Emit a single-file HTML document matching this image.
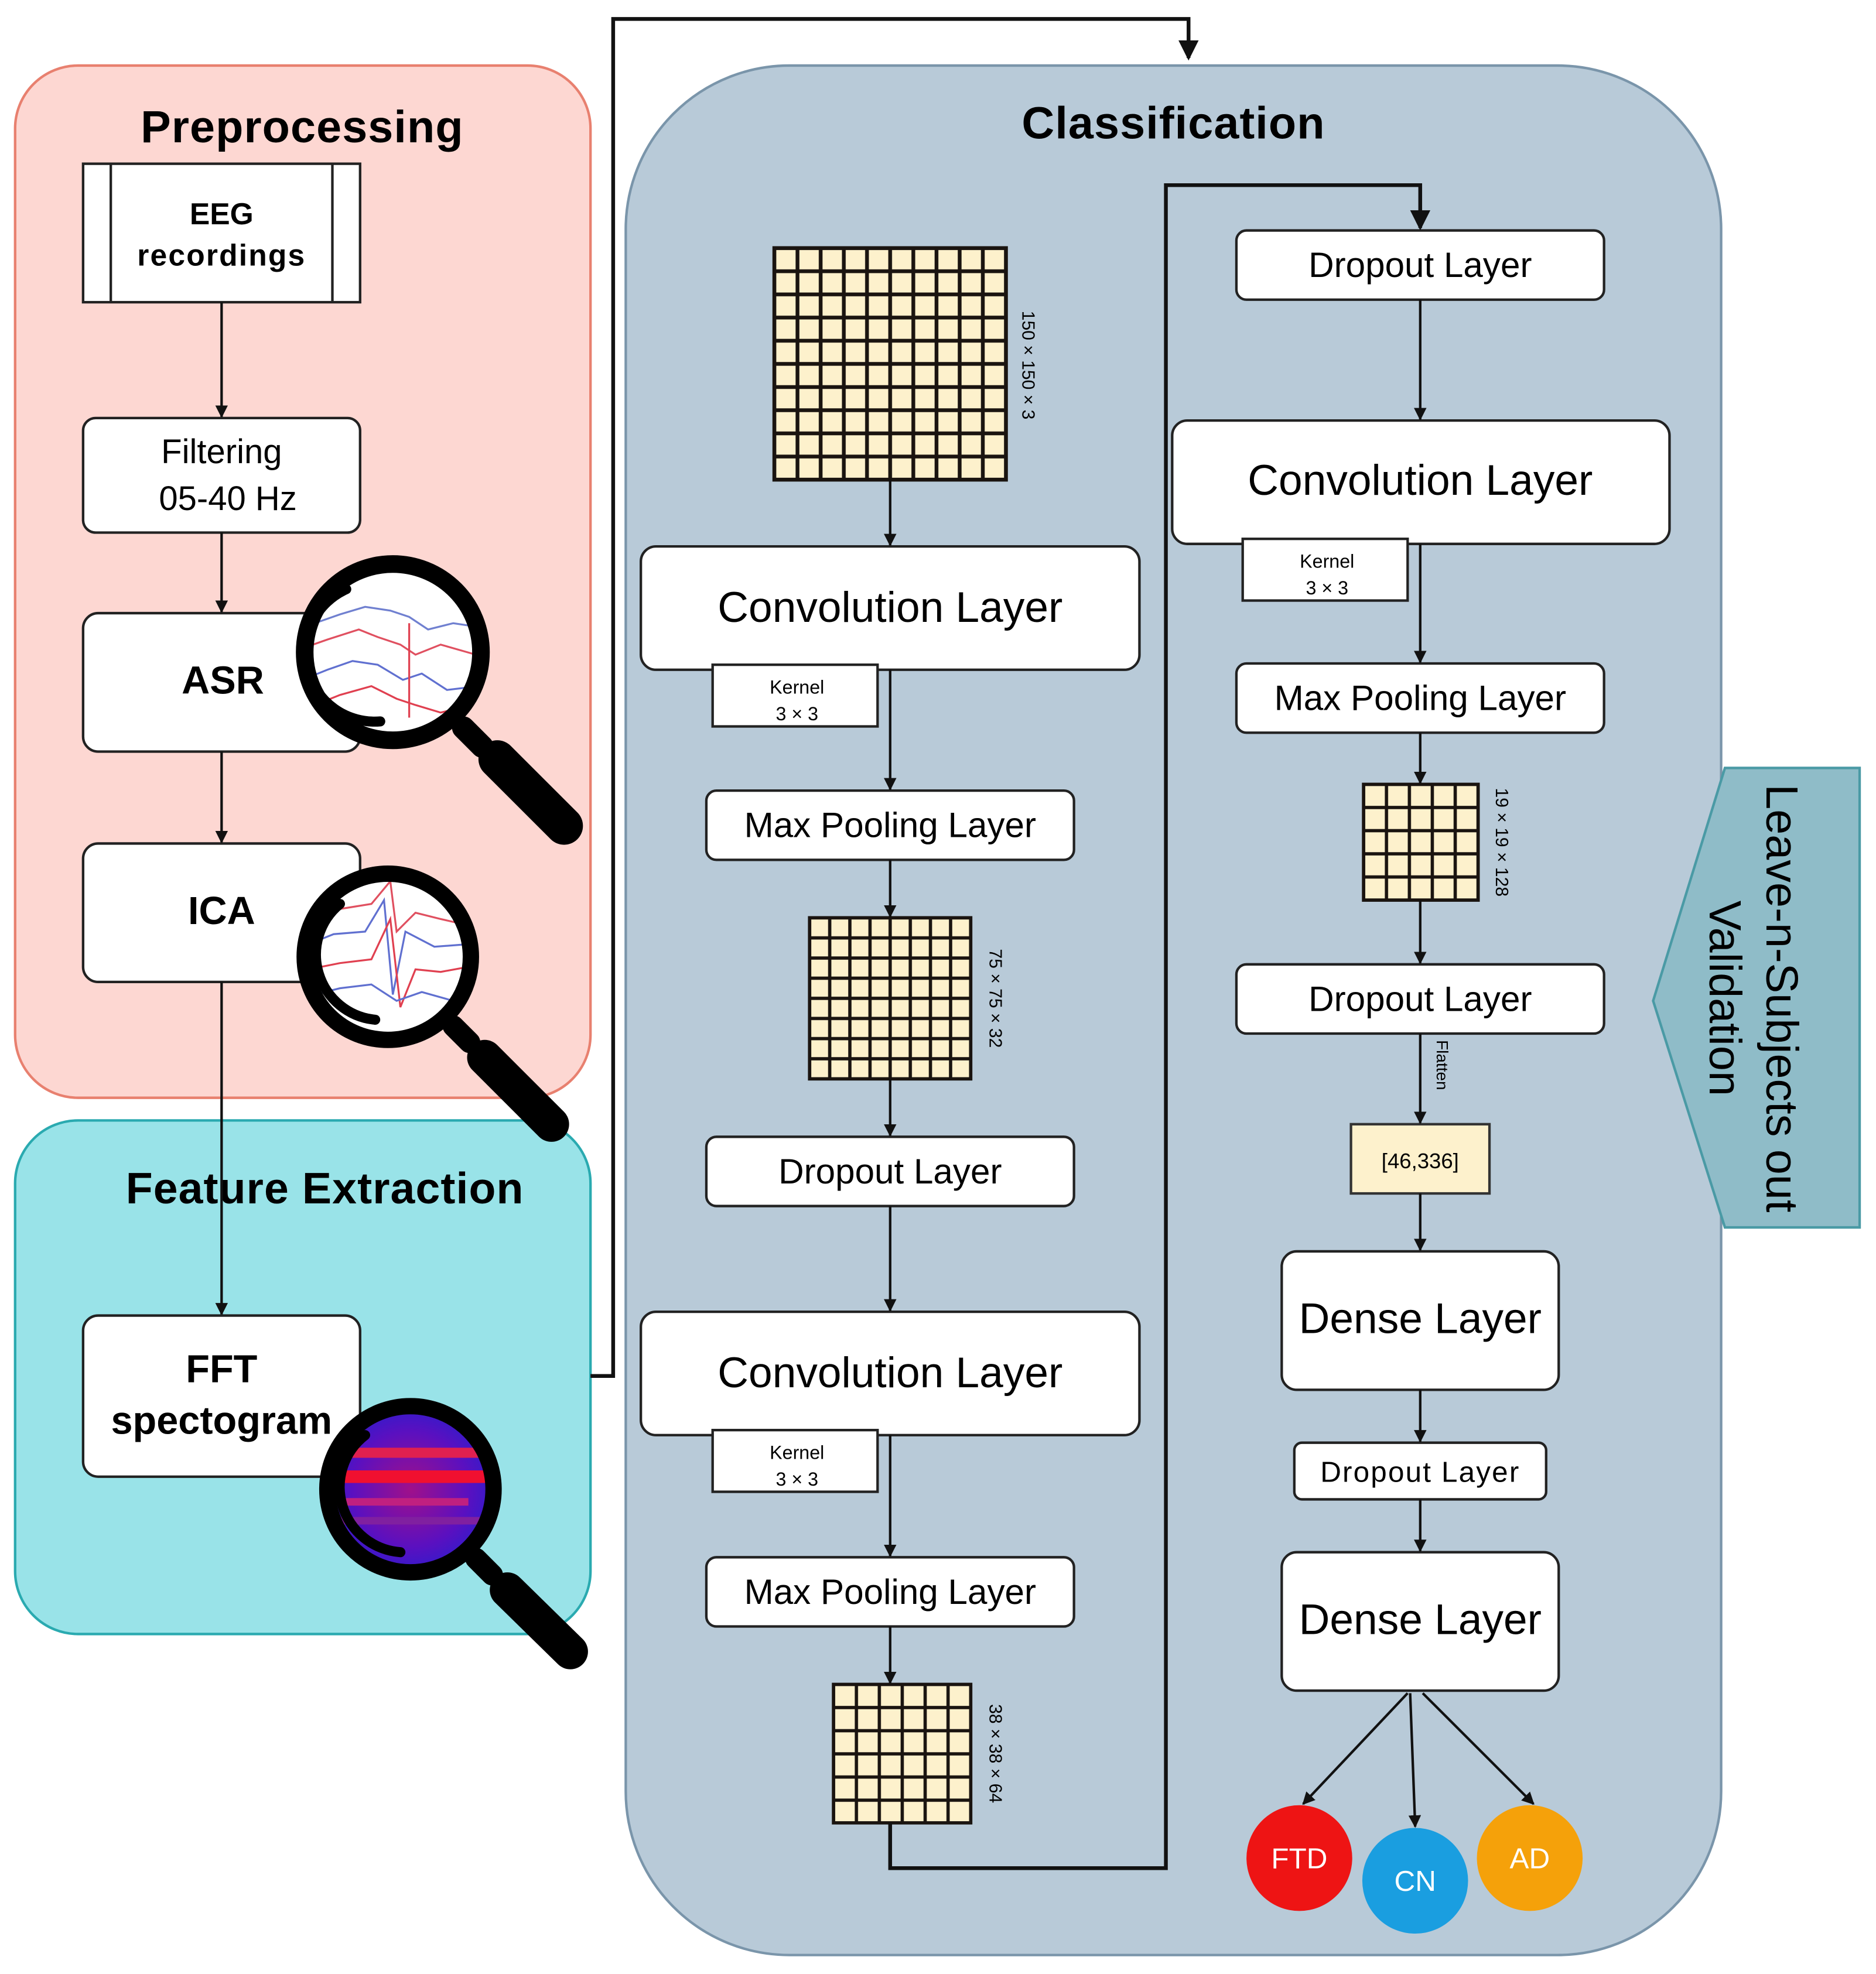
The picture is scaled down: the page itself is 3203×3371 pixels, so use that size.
<!DOCTYPE html>
<html><head><meta charset="utf-8"><style>html,body{margin:0;padding:0;background:#fff}svg{display:block}</style></head>
<body>
<svg width="3203" height="3371" viewBox="0 0 1490 1568" xmlns="http://www.w3.org/2000/svg" font-family="Liberation Sans, Arial, sans-serif">
<defs>
<marker id="ah" markerWidth="10" markerHeight="10" refX="9" refY="5" orient="auto" markerUnits="userSpaceOnUse"><path d="M0,0 L10,5 L0,10 z" fill="#111"/></marker>
<marker id="ahb" markerWidth="16" markerHeight="16" refX="14" refY="8" orient="auto" markerUnits="userSpaceOnUse"><path d="M0,0 L16,8 L0,16 z" fill="#111"/></marker>
<pattern id="g1" x="615" y="197" width="18.4" height="18.4" patternUnits="userSpaceOnUse"><rect width="18.4" height="18.4" fill="#fdf1cc" stroke="#1a1410" stroke-width="3"/></pattern>
<pattern id="g2" x="643" y="729" width="16" height="16" patternUnits="userSpaceOnUse"><rect width="16" height="16" fill="#fdf1cc" stroke="#1a1410" stroke-width="2.6"/></pattern>
<pattern id="g3" x="662" y="1338" width="18.2" height="18.4" patternUnits="userSpaceOnUse"><rect width="18.2" height="18.4" fill="#fdf1cc" stroke="#1a1410" stroke-width="2.6"/></pattern>
<pattern id="g4" x="1083" y="623" width="18.2" height="18.4" patternUnits="userSpaceOnUse"><rect width="18.2" height="18.4" fill="#fdf1cc" stroke="#1a1410" stroke-width="2.6"/></pattern>
<radialGradient id="fft" cx="0.5" cy="0.5" r="0.6"><stop offset="0" stop-color="#a0108a"/><stop offset="0.6" stop-color="#5a10c0"/><stop offset="1" stop-color="#2020d0"/></radialGradient>
<clipPath id="c1"><circle cx="312" cy="518" r="68"/></clipPath>
<clipPath id="c2"><circle cx="308" cy="760" r="64"/></clipPath>
<clipPath id="c3"><circle cx="326" cy="1183" r="64"/></clipPath>
</defs>

<rect x="12" y="52" width="457" height="820" rx="50" fill="#fdd7d2" stroke="#e8806f" stroke-width="2"/>
<text x="240" y="113" font-size="36" font-weight="bold" text-anchor="middle" letter-spacing="0.5">Preprocessing</text>
<rect x="66" y="130" width="220" height="110" fill="#fff" stroke="#222" stroke-width="2"/>
<line x1="88" y1="130" x2="88" y2="240" stroke="#222" stroke-width="2"/>
<line x1="264" y1="130" x2="264" y2="240" stroke="#222" stroke-width="2"/>
<text x="176" y="178" font-size="24" font-weight="bold" text-anchor="middle">EEG</text>
<text x="176" y="211" font-size="24" font-weight="bold" text-anchor="middle" letter-spacing="1">recordings</text>
<rect x="66" y="332" width="220" height="91" rx="10" fill="#fff" stroke="#222" stroke-width="2"/>
<text x="176" y="368" font-size="27" text-anchor="middle">Filtering</text>
<text x="181" y="405" font-size="27" text-anchor="middle">05-40 Hz</text>
<rect x="66" y="487" width="220" height="110" rx="12" fill="#fff" stroke="#222" stroke-width="2"/>
<text x="177" y="551" font-size="31" font-weight="bold" text-anchor="middle">ASR</text>
<rect x="66" y="670" width="220" height="110" rx="12" fill="#fff" stroke="#222" stroke-width="2"/>
<text x="176" y="734" font-size="31" font-weight="bold" text-anchor="middle">ICA</text>
<g stroke="#111" stroke-width="2" marker-end="url(#ah)">
<line x1="176" y1="240" x2="176" y2="331"/>
<line x1="176" y1="423" x2="176" y2="486"/>
<line x1="176" y1="597" x2="176" y2="669"/>
</g>

<rect x="12" y="890" width="457" height="408" rx="50" fill="#99e3e8" stroke="#2aaab0" stroke-width="2"/>
<text x="258" y="956" font-size="35" font-weight="bold" text-anchor="middle" letter-spacing="0.5">Feature Extraction</text>
<line x1="176" y1="780" x2="176" y2="1044" stroke="#111" stroke-width="2" marker-end="url(#ah)"/>
<rect x="66" y="1045" width="220" height="128" rx="12" fill="#fff" stroke="#222" stroke-width="2"/>
<text x="176" y="1098" font-size="31" font-weight="bold" text-anchor="middle">FFT</text>
<text x="176" y="1139" font-size="31" font-weight="bold" text-anchor="middle">spectogram</text>

<circle cx="312" cy="518" r="68" fill="#fff"/>
<g clip-path="url(#c1)" fill="none" stroke-width="1.5">
<polyline points="250,495 270,488 290,482 310,485 325,490 340,500 360,495 380,498" stroke="#7080d0"/>
<polyline points="240,515 260,508 285,500 300,506 318,512 330,520 350,512 378,520" stroke="#e05060"/>
<polyline points="240,540 260,532 280,525 300,528 320,540 335,535 355,548 380,545" stroke="#6070d0"/>
<polyline points="250,560 270,552 295,545 315,555 330,560 350,566 375,560" stroke="#e04050"/>
<line x1="325" y1="495" x2="325" y2="570" stroke="#e04050"/>
</g>
<circle cx="312" cy="518" r="70" fill="none" stroke="#000" stroke-width="14"/>
<path d="M275,468 A55,55 0 0 0 302,573" fill="none" stroke="#000" stroke-width="8" stroke-linecap="round"/>
<line x1="368" y1="578" x2="383" y2="593" stroke="#000" stroke-width="18" stroke-linecap="round"/>
<line x1="395" y1="603" x2="448" y2="656" stroke="#000" stroke-width="30" stroke-linecap="round"/>

<circle cx="308" cy="760" r="64" fill="#fff"/>
<g clip-path="url(#c2)" fill="none" stroke-width="1.5">
<polyline points="248,730 270,722 295,718 310,700 315,740 330,725 350,730 372,735" stroke="#e05060"/>
<polyline points="245,750 265,742 290,740 305,715 312,790 322,740 345,752 372,750" stroke="#6070d0"/>
<polyline points="245,770 270,765 295,762 310,730 318,800 330,770 350,772 372,768" stroke="#e04050"/>
<polyline points="250,790 270,785 295,782 315,795 335,788 360,795" stroke="#6070d0"/>
</g>
<circle cx="308" cy="760" r="66" fill="none" stroke="#000" stroke-width="13"/>
<path d="M270,718 A52,52 0 0 0 298,810" fill="none" stroke="#000" stroke-width="8" stroke-linecap="round"/>
<line x1="360" y1="815" x2="373" y2="828" stroke="#000" stroke-width="17" stroke-linecap="round"/>
<line x1="385" y1="840" x2="438" y2="893" stroke="#000" stroke-width="28" stroke-linecap="round"/>

<circle cx="326" cy="1183" r="64" fill="url(#fft)"/>
<g clip-path="url(#c3)">
<rect x="262" y="1150" width="130" height="8" fill="#e02050"/>
<rect x="262" y="1168" width="130" height="10" fill="#f01030"/>
<rect x="262" y="1190" width="110" height="6" fill="#c02080"/>
<rect x="262" y="1205" width="130" height="6" fill="#8020a0"/>
</g>
<circle cx="326" cy="1183" r="66" fill="none" stroke="#000" stroke-width="13"/>
<path d="M290,1140 A52,52 0 0 0 318,1233" fill="none" stroke="#000" stroke-width="8" stroke-linecap="round"/>
<line x1="378" y1="1238" x2="391" y2="1251" stroke="#000" stroke-width="17" stroke-linecap="round"/>
<line x1="403" y1="1263" x2="453" y2="1312" stroke="#000" stroke-width="28" stroke-linecap="round"/>

<polyline points="469,1093 487,1093 487,15 944,15 944,46" fill="none" stroke="#111" stroke-width="3" marker-end="url(#ahb)"/>

<rect x="497" y="52" width="870" height="1501" rx="130" fill="#b8cad8" stroke="#7a95aa" stroke-width="2"/>
<text x="932" y="110" font-size="36" font-weight="bold" text-anchor="middle" letter-spacing="0.5">Classification</text>

<polygon points="1313,795 1370,610 1477,610 1477,975 1370,975" fill="#8fbcc8" stroke="#4a9aa5" stroke-width="2"/>
<text transform="translate(1403,793) rotate(90)" font-size="36" text-anchor="middle">Leave-n-Subjects out</text>
<text transform="translate(1358,793) rotate(90)" font-size="36" text-anchor="middle">Validation</text>

<g font-size="28" text-anchor="middle">
<rect x="615" y="197" width="184" height="184" fill="url(#g1)" stroke="#1a1410" stroke-width="3"/>
<text transform="translate(812,290) rotate(90)" font-size="14" text-anchor="middle">150 × 150 × 3</text>
<rect x="509" y="434" width="396" height="98" rx="12" fill="#fff" stroke="#222" stroke-width="2"/>
<text x="707" y="494" font-size="34">Convolution Layer</text>
<rect x="566" y="528" width="131" height="49" fill="#fff" stroke="#222" stroke-width="2"/>
<text x="633" y="551" font-size="15">Kernel</text><text x="633" y="572" font-size="15">3 × 3</text>
<rect x="561" y="628" width="292" height="55" rx="8" fill="#fff" stroke="#222" stroke-width="2"/>
<text x="707" y="665">Max Pooling Layer</text>
<rect x="643" y="729" width="128" height="128" fill="url(#g2)" stroke="#1a1410" stroke-width="2.6"/>
<text transform="translate(786,793) rotate(90)" font-size="14" text-anchor="middle">75 × 75 × 32</text>
<rect x="561" y="903" width="292" height="55" rx="8" fill="#fff" stroke="#222" stroke-width="2"/>
<text x="707" y="940">Dropout Layer</text>
<rect x="509" y="1042" width="396" height="98" rx="12" fill="#fff" stroke="#222" stroke-width="2"/>
<text x="707" y="1102" font-size="34">Convolution Layer</text>
<rect x="566" y="1136" width="131" height="49" fill="#fff" stroke="#222" stroke-width="2"/>
<text x="633" y="1159" font-size="15">Kernel</text><text x="633" y="1180" font-size="15">3 × 3</text>
<rect x="561" y="1237" width="292" height="55" rx="8" fill="#fff" stroke="#222" stroke-width="2"/>
<text x="707" y="1274">Max Pooling Layer</text>
<rect x="662" y="1338" width="109" height="110" fill="url(#g3)" stroke="#1a1410" stroke-width="2.6"/>
<text transform="translate(786,1393) rotate(90)" font-size="14" text-anchor="middle">38 × 38 × 64</text>

<rect x="982" y="183" width="292" height="55" rx="8" fill="#fff" stroke="#222" stroke-width="2"/>
<text x="1128" y="220">Dropout Layer</text>
<rect x="931" y="334" width="395" height="98" rx="12" fill="#fff" stroke="#222" stroke-width="2"/>
<text x="1128" y="393" font-size="34">Convolution Layer</text>
<rect x="987" y="428" width="131" height="49" fill="#fff" stroke="#222" stroke-width="2"/>
<text x="1054" y="451" font-size="15">Kernel</text><text x="1054" y="472" font-size="15">3 × 3</text>
<rect x="982" y="527" width="292" height="55" rx="8" fill="#fff" stroke="#222" stroke-width="2"/>
<text x="1128" y="564">Max Pooling Layer</text>
<rect x="1083" y="623" width="91" height="92" fill="url(#g4)" stroke="#1a1410" stroke-width="2.6"/>
<text transform="translate(1188,669) rotate(90)" font-size="14" text-anchor="middle">19 × 19 × 128</text>
<rect x="982" y="766" width="292" height="55" rx="8" fill="#fff" stroke="#222" stroke-width="2"/>
<text x="1128" y="803">Dropout Layer</text>
<text transform="translate(1141,846) rotate(90)" font-size="13" text-anchor="middle">Flatten</text>
<rect x="1073" y="893" width="110" height="55" fill="#fdf1cc" stroke="#333" stroke-width="2"/>
<text x="1128" y="928" font-size="17">[46,336]</text>
<rect x="1018" y="994" width="220" height="110" rx="12" fill="#fff" stroke="#222" stroke-width="2"/>
<text x="1128" y="1059" font-size="34">Dense Layer</text>
<rect x="1028" y="1146" width="200" height="45" rx="6" fill="#fff" stroke="#222" stroke-width="2"/>
<text x="1128" y="1177" font-size="23" letter-spacing="1">Dropout Layer</text>
<rect x="1018" y="1233" width="220" height="110" rx="12" fill="#fff" stroke="#222" stroke-width="2"/>
<text x="1128" y="1298" font-size="34">Dense Layer</text>
</g>

<g stroke="#111" stroke-width="2" marker-end="url(#ah)">
<line x1="707" y1="381" x2="707" y2="433"/>
<line x1="707" y1="532" x2="707" y2="627"/>
<line x1="707" y1="683" x2="707" y2="728"/>
<line x1="707" y1="857" x2="707" y2="902"/>
<line x1="707" y1="958" x2="707" y2="1041"/>
<line x1="707" y1="1140" x2="707" y2="1236"/>
<line x1="707" y1="1292" x2="707" y2="1337"/>
<line x1="1128" y1="238" x2="1128" y2="333"/>
<line x1="1128" y1="432" x2="1128" y2="526"/>
<line x1="1128" y1="582" x2="1128" y2="622"/>
<line x1="1128" y1="715" x2="1128" y2="765"/>
<line x1="1128" y1="821" x2="1128" y2="892"/>
<line x1="1128" y1="948" x2="1128" y2="993"/>
<line x1="1128" y1="1104" x2="1128" y2="1145"/>
<line x1="1128" y1="1191" x2="1128" y2="1232"/>
<line x1="1118" y1="1345" x2="1035" y2="1433"/>
<line x1="1120" y1="1345" x2="1124" y2="1451"/>
<line x1="1130" y1="1345" x2="1218" y2="1433"/>
</g>
<polyline points="707,1448 707,1484 926,1484 926,147 1128,147 1128,181" fill="none" stroke="#111" stroke-width="3" marker-end="url(#ahb)"/>

<circle cx="1032" cy="1476" r="42" fill="#ee1414"/>
<circle cx="1124" cy="1494" r="42" fill="#1a9ee0"/>
<circle cx="1215" cy="1476" r="42" fill="#f5a10a"/>
<g fill="#fff" font-size="23" text-anchor="middle">
<text x="1032" y="1484">FTD</text><text x="1124" y="1502">CN</text><text x="1215" y="1484">AD</text>
</g>
</svg>
</body></html>
